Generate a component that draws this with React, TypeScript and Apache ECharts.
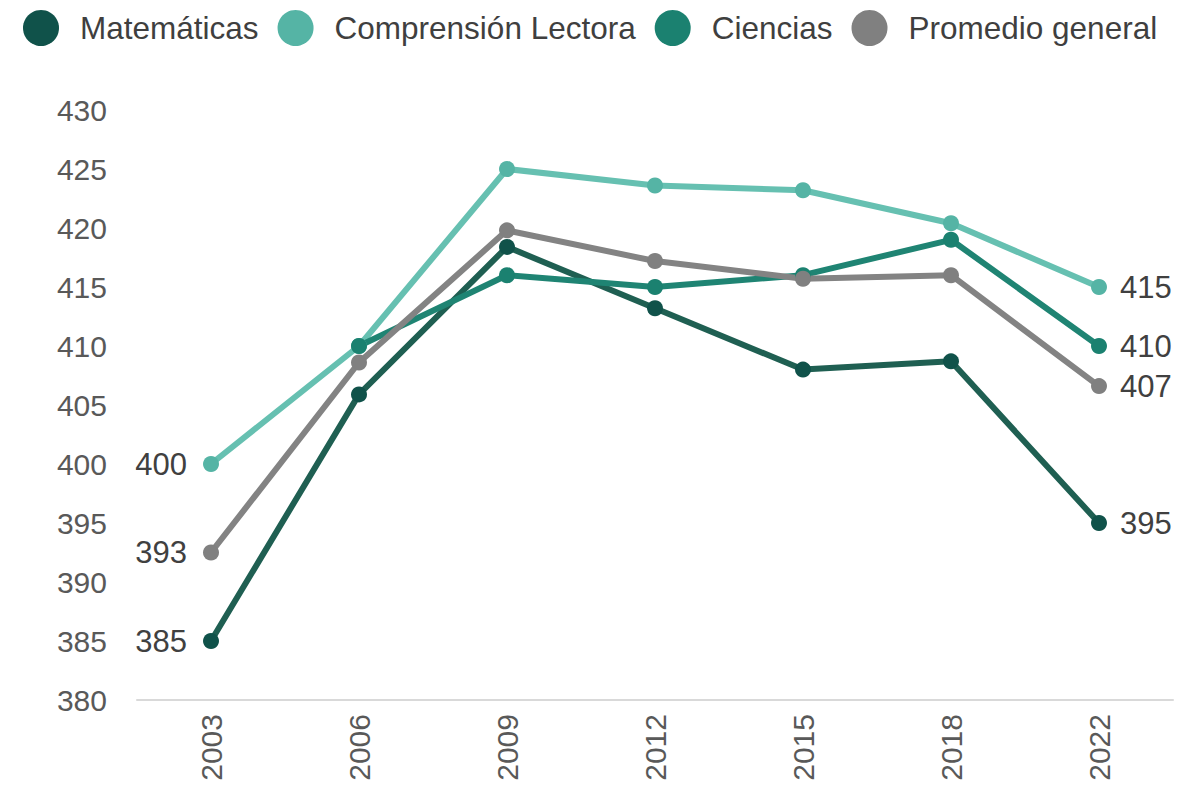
import React, { useEffect, useRef } from "react";
import * as echarts from "echarts";

const years = ["2003", "2006", "2009", "2012", "2015", "2018", "2022"];
const matematicas = [385, 405.9, 418.4, 413.2, 408, 408.7, 395];
const comprension = [400, 410, 425, 423.6, 423.2, 420.4, 415];
const ciencias: (number | null)[] = [null, 410, 416, 415, 416, 419, 410];
const promedio = [392.5, 408.6, 419.8, 417.2, 415.7, 416, 406.6];

const seriesNames = ["Matemáticas", "Comprensión Lectora", "Ciencias", "Promedio general"];
const markerColors = ["#10524a", "#55b4a5", "#1b8170", "#808080"];
const lineColors = ["#1f5f52", "#66c0b1", "#1f8473", "#838383"];

const FONT = "'Liberation Sans', Arial, sans-serif";

function withLabels(values: (number | null)[]) {
  let first = -1;
  let last = -1;
  values.forEach((v, i) => {
    if (v !== null) {
      if (first < 0) first = i;
      last = i;
    }
  });
  return values.map((v, i) => {
    if (v === null) return "-";
    if (i === first && first === 0) {
      return { value: v, label: { show: true, position: "left", distance: 16 } };
    }
    if (i === last) {
      return { value: v, label: { show: true, position: "right", distance: 13 } };
    }
    return v;
  });
}

export default function App() {
  const ref = useRef<HTMLDivElement>(null);
  useEffect(() => {
    if (!ref.current) return;
    const chart = echarts.init(ref.current, undefined, { renderer: "svg" });
    const all = [matematicas, comprension, ciencias, promedio];
    chart.setOption({
      animation: false,
      legend: {
        top: 5,
        left: 18,
        width: 1170,
        itemWidth: 36,
        itemHeight: 36,
        itemGap: 19,
        icon: "circle",
        textStyle: { fontFamily: FONT, fontSize: 31.5, color: "#3f3f3f", padding: [0, 0, 0, 16] },
        data: seriesNames,
      },
      grid: { left: 137, right: 4, top: 110, bottom: 90, containLabel: false },
      xAxis: {
        type: "category",
        data: years,
        boundaryGap: true,
        axisLine: { show: true, lineStyle: { color: "#d9d9d9", width: 2 } },
        axisTick: { show: false },
        axisLabel: { rotate: 90, fontFamily: FONT, fontSize: 30, color: "#595959", margin: 14 },
      },
      yAxis: {
        type: "value",
        min: 380,
        max: 430,
        interval: 5,
        axisLine: { show: false },
        axisTick: { show: false },
        splitLine: { show: false },
        axisLabel: { fontFamily: FONT, fontSize: 30, color: "#595959", margin: 30 },
      },
      series: all.map((vals, i) => ({
        name: seriesNames[i],
        type: "line",
        data: withLabels(vals),
        symbol: "circle",
        symbolSize: 16,
        showAllSymbol: true,
        connectNulls: false,
        itemStyle: { color: markerColors[i] },
        lineStyle: { color: lineColors[i], width: 6 },
        label: {
          fontFamily: FONT,
          fontSize: 31,
          color: "#404040",
          formatter: (p: any) => String(Math.round(Number(p.value))),
        },
        emphasis: { disabled: true },
      })),
    });
    return () => chart.dispose();
  }, []);
  return (
    <div
      ref={ref}
      style={{ position: "fixed", left: 0, top: 0, width: 1177, height: 790, background: "#fff" }}
    />
  );
}
